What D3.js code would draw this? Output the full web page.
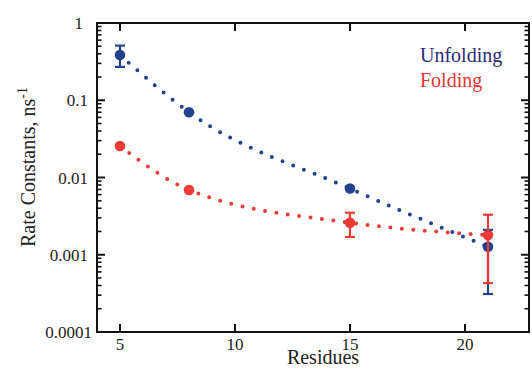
<!DOCTYPE html>
<html>
<head>
<meta charset="utf-8">
<script src="https://cdn.jsdelivr.net/npm/d3@7"></script>
<style>
  html, body { margin: 0; padding: 0; background: #fff; }
  svg { display: block; font-family: "Liberation Serif", "Times New Roman", serif; }
</style>
</head>
<body>
<svg id="chart" width="532" height="369"></svg>
<script>
// Peptide length (residues)
const residues = [5, 8, 15, 21];

// Rate constants (ns^-1) with lower/upper error limits
const unfolding = [0.385, 0.070, 0.0072, 0.00127];
const unfoldingLo = [0.27, null, null, 0.00031];
const unfoldingHi = [0.51, null, null, 0.0021];

const folding = [0.0256, 0.0069, 0.0026, 0.0018];
const foldingLo = [null, null, 0.0017, 0.00043];
const foldingHi = [null, null, 0.0035, 0.0033];

const xTicks = [5, 10, 15, 20];
const yTicks = [1, 0.1, 0.01, 0.001, 0.0001];

const colBlue = "#22418f";
const colRed = "#f03a35";

const svg = d3.select("#chart");
const plotL = 97, plotR = 529, plotT = 23, plotB = 332;

const x = d3.scaleLinear().domain([4, 4 + (plotR - plotL) / 23]).range([plotL, plotR]);
const y = d3.scaleLog().domain([0.0001, 1]).range([plotB, plotT]);

// Fit curves (dotted)
const line = d3.line()
  .x(d => x(d[0]))
  .y(d => y(d[1]))
  .curve(d3.curveMonotoneX);

function drawSeries(vals, lo, hi, color) {
  const pts = residues.map((r, i) => [r, vals[i]]);
  svg.append("path")
    .attr("d", line(pts))
    .attr("fill", "none")
    .attr("stroke", color)
    .attr("stroke-width", 4)
    .attr("stroke-linecap", "round")
    .attr("stroke-dasharray", "0,11.5");

  const g = svg.append("g");
  residues.forEach((r, i) => {
    if (lo[i] != null) {
      const cx = x(r);
      g.append("line").attr("x1", cx).attr("x2", cx)
        .attr("y1", y(lo[i])).attr("y2", y(hi[i]))
        .attr("stroke", color).attr("stroke-width", 2.2);
      [lo[i], hi[i]].forEach(v => {
        g.append("line").attr("x1", cx - 5).attr("x2", cx + 5)
          .attr("y1", y(v)).attr("y2", y(v))
          .attr("stroke", color).attr("stroke-width", 2.2);
      });
    }
  });
  g.selectAll("circle").data(pts).join("circle")
    .attr("cx", d => x(d[0]))
    .attr("cy", d => y(d[1]))
    .attr("r", 5.3)
    .attr("fill", color);
}

drawSeries(unfolding, unfoldingLo, unfoldingHi, colBlue);
drawSeries(folding, foldingLo, foldingHi, colRed);

// Frame and axes
const axisCol = "#111";
const minorTicks = [];
for (let e = -4; e < 0; e++) {
  for (let k = 2; k <= 9; k++) minorTicks.push(k * Math.pow(10, e));
}

const ax = svg.append("g").attr("stroke", axisCol).attr("fill", "none");
ax.append("rect")
  .attr("x", plotL).attr("y", plotT)
  .attr("width", plotR - plotL).attr("height", plotB - plotT)
  .attr("stroke-width", 2);

// y major/minor ticks, left (inward) and right (inward)
yTicks.forEach(v => {
  ax.append("line").attr("x1", plotL).attr("x2", plotL + 8).attr("y1", y(v)).attr("y2", y(v)).attr("stroke-width", 2);
  ax.append("line").attr("x1", plotR).attr("x2", plotR - 8).attr("y1", y(v)).attr("y2", y(v)).attr("stroke-width", 2);
});
minorTicks.forEach(v => {
  ax.append("line").attr("x1", plotL).attr("x2", plotL + 4.5).attr("y1", y(v)).attr("y2", y(v)).attr("stroke-width", 1.6);
  ax.append("line").attr("x1", plotR).attr("x2", plotR - 4.5).attr("y1", y(v)).attr("y2", y(v)).attr("stroke-width", 1.6);
});

// x ticks, bottom and top (inward)
xTicks.forEach(v => {
  ax.append("line").attr("x1", x(v)).attr("x2", x(v)).attr("y1", plotB).attr("y2", plotB - 8).attr("stroke-width", 2);
  ax.append("line").attr("x1", x(v)).attr("x2", x(v)).attr("y1", plotT).attr("y2", plotT + 8).attr("stroke-width", 2);
});

// Tick labels
const fmt = v => (v >= 1 ? "1" : String(+v.toFixed(4)));
svg.append("g").selectAll("text").data(yTicks).join("text")
  .attr("x", d => d === 1 ? 83 : (d === 0.0001 ? 92 : 88))
  .attr("y", d => y(d) + 6)
  .attr("text-anchor", "end")
  .attr("font-size", 17)
  .attr("fill", "#222")
  .text(fmt);

svg.append("g").selectAll("text").data(xTicks).join("text")
  .attr("x", d => x(d))
  .attr("y", 350)
  .attr("text-anchor", "middle")
  .attr("font-size", 17)
  .attr("fill", "#222")
  .text(d => d);

// Axis titles
svg.append("text")
  .attr("x", 323).attr("y", 364)
  .attr("text-anchor", "middle")
  .attr("font-size", 20)
  .attr("fill", "#222")
  .text("Residues");

const yl = svg.append("text")
  .attr("transform", "translate(35,167) rotate(-90)")
  .attr("text-anchor", "middle")
  .attr("font-size", 20)
  .attr("fill", "#222");
yl.append("tspan").text("Rate Constants, ns");
yl.append("tspan").attr("dy", -8).attr("font-size", 14).text("-1");

// Legend
svg.append("text").attr("x", 420).attr("y", 62)
  .attr("font-size", 20).attr("fill", "#2e2a7c").text("Unfolding");
svg.append("text").attr("x", 420).attr("y", 87)
  .attr("font-size", 20).attr("fill", "#ec3530").text("Folding");
</script>
</body>
</html>
